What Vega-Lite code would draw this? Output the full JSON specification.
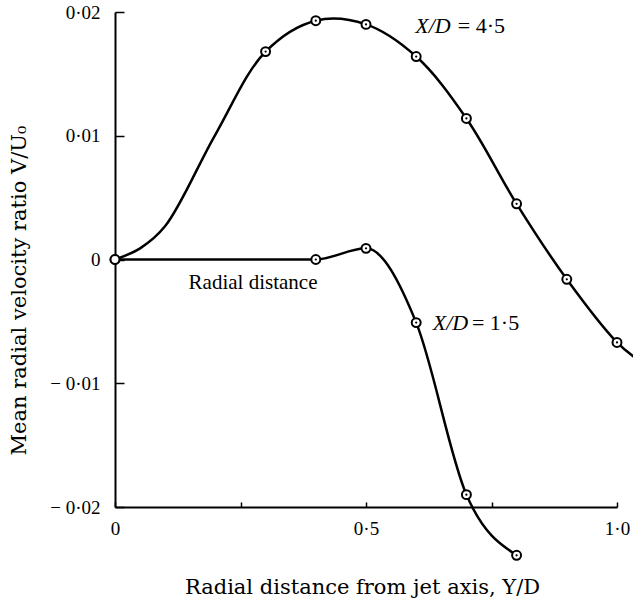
{
  "$schema": "https://vega.github.io/schema/vega-lite/v6.json",
  "width": 502,
  "height": 495,
  "autosize": {"type": "none"},
  "padding": {"left": 115, "top": 12, "right": 16, "bottom": 95},
  "background": "white",
  "config": {
    "view": {"stroke": null},
    "axis": {
      "grid": false,
      "domainColor": "black",
      "tickColor": "black",
      "labelColor": "black",
      "titleColor": "black",
      "labelFont": "Liberation Serif",
      "titleFont": "DejaVu Serif",
      "titleFontWeight": "normal"
    }
  },
  "datasets": {
    "curves": [
      {"series": "X/D = 4·5", "x": 0, "y": 0, "measured": true},
      {"series": "X/D = 4·5", "x": 0.05, "y": 0.0009, "measured": false},
      {"series": "X/D = 4·5", "x": 0.1, "y": 0.0027, "measured": false},
      {"series": "X/D = 4·5", "x": 0.2, "y": 0.0101, "measured": false},
      {"series": "X/D = 4·5", "x": 0.3, "y": 0.0168, "measured": true},
      {"series": "X/D = 4·5", "x": 0.4, "y": 0.0193, "measured": true},
      {"series": "X/D = 4·5", "x": 0.5, "y": 0.019, "measured": true},
      {"series": "X/D = 4·5", "x": 0.6, "y": 0.0164, "measured": true},
      {"series": "X/D = 4·5", "x": 0.7, "y": 0.0114, "measured": true},
      {"series": "X/D = 4·5", "x": 0.8, "y": 0.0045, "measured": true},
      {"series": "X/D = 4·5", "x": 0.9, "y": -0.0016, "measured": true},
      {"series": "X/D = 4·5", "x": 1.0, "y": -0.0067, "measured": true},
      {"series": "X/D = 4·5", "x": 1.035, "y": -0.0079, "measured": false},
      {"series": "X/D = 1·5", "x": 0, "y": 0, "measured": true},
      {"series": "X/D = 1·5", "x": 0.4, "y": 0, "measured": true},
      {"series": "X/D = 1·5", "x": 0.5, "y": 0.0009, "measured": true},
      {"series": "X/D = 1·5", "x": 0.6, "y": -0.0051, "measured": true},
      {"series": "X/D = 1·5", "x": 0.7, "y": -0.019, "measured": true},
      {"series": "X/D = 1·5", "x": 0.8, "y": -0.0239, "measured": true}
    ]
  },
  "layer": [
    {
      "data": {"name": "curves"},
      "transform": [{"filter": "datum.series == 'X/D = 4·5'"}],
      "mark": {"type": "line", "interpolate": "catmull-rom", "color": "black", "strokeWidth": 2.5},
      "encoding": {
        "x": {
          "field": "x", "type": "quantitative",
          "scale": {"domain": [0, 1], "nice": false, "zero": false},
          "axis": {
            "title": "Radial distance from jet axis, Y/D",
            "values": [0, 0.25, 0.5, 0.75, 1],
            "labelExpr": "datum.value == 0 ? '0' : (datum.value == 0.5 ? '0·5' : (datum.value == 1 ? '1·0' : ''))",
            "tickSize": -5,
            "tickWidth": 1.5,
            "domainWidth": 2,
            "labelPadding": 17,
            "labelFontSize": 19,
            "labelFlush": false,
            "labelOverlap": false,
            "titleFontSize": 21,
            "titleX": 247,
            "titleY": 86,
            "titleBaseline": "alphabetic",
            "titleAlign": "center"
          }
        },
        "y": {
          "field": "y", "type": "quantitative",
          "scale": {"domain": [-0.02, 0.02], "nice": false, "zero": false},
          "axis": {
            "title": "Mean radial velocity ratio V/U₀",
            "values": [-0.02, -0.01, 0, 0.01, 0.02],
            "labelExpr": "datum.value > 0.015 ? '0·02' : (datum.value > 0.005 ? '0·01' : (datum.value > -0.005 ? '0' : (datum.value > -0.015 ? '− 0·01' : '− 0·02')))",
            "tickSize": -9,
            "tickWidth": 1.5,
            "domainWidth": 2,
            "labelPadding": 24,
            "labelFontSize": 19,
            "labelOverlap": false,
            "titleFontSize": 21,
            "titleAngle": 270,
            "titleX": -90,
            "titleY": 278,
            "titleBaseline": "alphabetic",
            "titleAlign": "center"
          }
        }
      }
    },
    {
      "data": {"name": "curves"},
      "transform": [{"filter": "datum.series == 'X/D = 1·5'"}],
      "mark": {"type": "line", "interpolate": "monotone", "color": "black", "strokeWidth": 2.5},
      "encoding": {
        "x": {"field": "x", "type": "quantitative"},
        "y": {"field": "y", "type": "quantitative"}
      }
    },
    {
      "data": {"name": "curves"},
      "transform": [{"filter": "datum.measured"}],
      "mark": {"type": "point", "shape": "circle", "filled": true, "fill": "white", "stroke": "black", "strokeWidth": 2, "size": 80, "opacity": 1},
      "encoding": {
        "x": {"field": "x", "type": "quantitative"},
        "y": {"field": "y", "type": "quantitative"}
      }
    },
    {
      "data": {"name": "curves"},
      "transform": [{"filter": "datum.measured && datum.x > 0"}],
      "mark": {"type": "circle", "color": "black", "size": 5, "opacity": 1},
      "encoding": {
        "x": {"field": "x", "type": "quantitative"},
        "y": {"field": "y", "type": "quantitative"}
      }
    },
    {
      "data": {"values": [
        {"text": "X/D", "x": 0.598, "y": 0.0189},
        {"text": "X/D", "x": 0.633, "y": -0.0051}
      ]},
      "mark": {"type": "text", "font": "Liberation Serif", "fontStyle": "italic", "fontSize": 22, "align": "left", "baseline": "middle", "color": "black"},
      "encoding": {
        "x": {"field": "x", "type": "quantitative"},
        "y": {"field": "y", "type": "quantitative"},
        "text": {"field": "text"}
      }
    },
    {
      "data": {"values": [
        {"text": "= 4·5", "x": 0.683, "y": 0.0189},
        {"text": "= 1·5", "x": 0.711, "y": -0.0051}
      ]},
      "mark": {"type": "text", "font": "Liberation Serif", "fontSize": 22, "align": "left", "baseline": "middle", "color": "black"},
      "encoding": {
        "x": {"field": "x", "type": "quantitative"},
        "y": {"field": "y", "type": "quantitative"},
        "text": {"field": "text"}
      }
    },
    {
      "data": {"values": [
        {"text": "Radial distance", "x": 0.275, "y": -0.0019}
      ]},
      "mark": {"type": "text", "font": "Liberation Serif", "fontSize": 21, "align": "center", "baseline": "middle", "color": "black"},
      "encoding": {
        "x": {"field": "x", "type": "quantitative"},
        "y": {"field": "y", "type": "quantitative"},
        "text": {"field": "text"}
      }
    }
  ]
}
